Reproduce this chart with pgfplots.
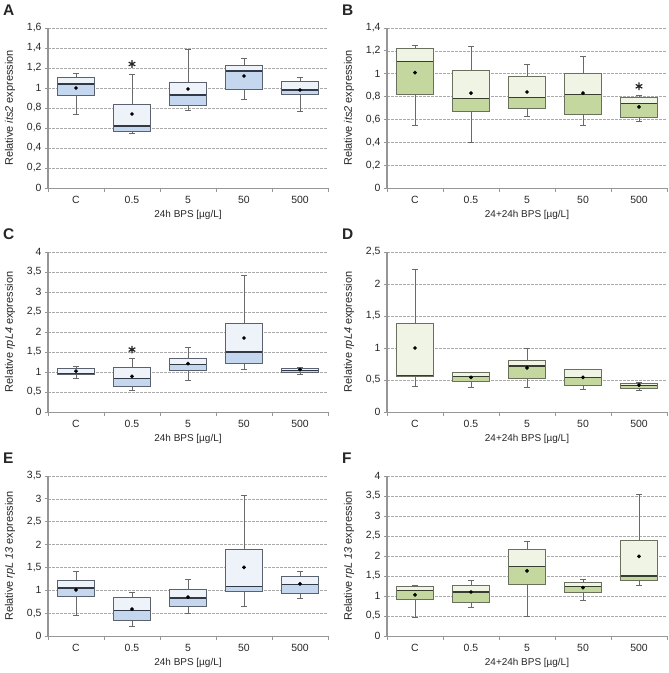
\documentclass[border=0pt]{standalone}
\usepackage{fontspec}
\setmainfont{Liberation Sans}
\usepackage{pgfplots}
\usepackage{pgfplotstable}
\pgfplotsset{compat=1.18}
\usepgfplotslibrary{statistics}

\definecolor{blueL}{RGB}{238,243,250}
\definecolor{blueD}{RGB}{197,215,238}
\definecolor{blueE}{RGB}{90,98,112}
\definecolor{blueM}{RGB}{50,57,70}
\definecolor{greenL}{RGB}{240,244,228}
\definecolor{greenD}{RGB}{196,215,158}
\definecolor{greenE}{RGB}{105,113,94}
\definecolor{greenM}{RGB}{55,62,48}
\definecolor{whisk}{RGB}{105,105,105}
\definecolor{axisgray}{RGB}{150,150,150}
\definecolor{gridgray}{RGB}{170,170,170}

% its2, 24h
\pgfplotstableread{
lw   q1   med  q3   uw   mean
0.74 0.93 1.04 1.11 1.15 1.00
0.55 0.57 0.62 0.84 1.14 0.74
0.78 0.83 0.93 1.06 1.39 0.99
0.89 0.99 1.17 1.23 1.30 1.12
0.77 0.94 0.98 1.07 1.11 0.98
}\dA
% its2, 24+24h
\pgfplotstableread{
lw   q1   med  q3   uw   mean
0.55 0.82 1.11 1.22 1.25 1.01
0.40 0.67 0.78 1.03 1.24 0.83
0.63 0.70 0.79 0.98 1.08 0.84
0.55 0.64 0.82 1.00 1.15 0.83
0.58 0.62 0.74 0.79 0.81 0.71
}\dB
% rpL4, 24h
\pgfplotstableread{
lw   q1   med  q3   uw   mean
0.84 0.93 0.97 1.08 1.14 1.02
0.55 0.65 0.83 1.12 1.33 0.89
0.78 1.05 1.18 1.35 1.62 1.21
1.06 1.22 1.50 2.21 3.41 1.85
0.93 0.98 1.03 1.08 1.12 1.06
}\dC
% rpL4, 24+24h
\pgfplotstableread{
lw   q1   med  q3   uw   mean
0.40 0.56 0.57 1.39 2.23 1.00
0.38 0.47 0.55 0.62 0.62 0.54
0.39 0.52 0.72 0.81 1.00 0.69
0.36 0.42 0.54 0.66 0.67 0.54
0.33 0.37 0.42 0.45 0.46 0.42
}\dD
% rpL13, 24h
\pgfplotstableread{
lw   q1   med  q3   uw   mean
0.44 0.86 1.05 1.22 1.41 1.01
0.20 0.33 0.55 0.84 0.95 0.59
0.49 0.65 0.83 1.01 1.23 0.85
0.64 0.97 1.08 1.90 3.07 1.50
0.82 0.92 1.12 1.30 1.42 1.14
}\dE
% rpL13, 24+24h
\pgfplotstableread{
lw   q1   med  q3   uw   mean
0.47 0.91 1.14 1.24 1.27 1.03
0.72 0.85 1.10 1.27 1.40 1.10
0.50 1.28 1.73 2.16 2.36 1.63
0.88 1.09 1.24 1.34 1.41 1.21
1.26 1.40 1.50 2.40 3.54 1.99
}\dF

\pgfplotsset{
  panel/.style={
    scale only axis, width=280bp, height=160bp,
    xmin=0.5, xmax=5.5, ymin=0,
    axis x line=bottom, axis y line=left,
    x axis line style={-, draw=axisgray, line width=1bp},
    y axis line style={-, draw=axisgray, line width=1.8bp},
    xtick={1,...,5}, xticklabels={C,0.5,5,50,500},
    minor xtick={0.5,1.5,...,5.5},
    major x tick style={draw=none},
    minor x tick style={draw=axisgray, line width=0.8bp},
    y tick style={draw=axisgray, line width=0.8bp},
    tick align=outside,
    major tick length=3bp, minor tick length=3.5bp,
    ymajorgrids,
    major grid style={draw=gridgray, dash pattern=on 2.5bp off 1.5bp, line width=0.6bp},
    tick label style={font=\fontsize{10.5}{12}\selectfont, text=black!85},
    xticklabel style={yshift=-1.5bp},
    /pgf/number format/assume math mode=true,
    /pgf/number format/use comma,
    every axis y label/.style={at={(axis description cs:-0.136,0.5)}, rotate=90,
      anchor=center, font=\fontsize{11}{13}\selectfont, text=black!85},
    every axis x label/.style={at={(axis description cs:0.5,0)},
      anchor=center, yshift=-27bp, font=\fontsize{10}{12}\selectfont, text=black!85},
  },
  fullbox/.style={boxplot/draw direction=y, boxplot/box extend=0.66,
    boxplot/whisker extend=0.1,
    boxplot/every whisker/.style={draw=whisk, line width=0.8bp},
    boxplot/every box/.style={draw=#1E, fill=#1L, line width=1bp},
    boxplot/every median/.style={draw=#1M, line width=1.2bp}},
  halfbox/.style={boxplot/draw direction=y, boxplot/box extend=0.66,
    boxplot/whisker extend=0.1,
    boxplot/every whisker/.style={draw=none},
    boxplot/every box/.style={draw=#1E, fill=#1D, line width=1bp},
    boxplot/every median/.style={draw=#1M, line width=1.2bp}},
  star/.style={only marks, mark=asterisk, mark size=3.8bp, line width=1.2bp, black!85},
}

% one box: table, row, colour scheme
\newcommand\onebox[3]{%
  \pgfplotstablegetelem{#2}{lw}\of#1\let\vlw\pgfplotsretval
  \pgfplotstablegetelem{#2}{q1}\of#1\let\vqa\pgfplotsretval
  \pgfplotstablegetelem{#2}{med}\of#1\let\vmed\pgfplotsretval
  \pgfplotstablegetelem{#2}{q3}\of#1\let\vqc\pgfplotsretval
  \pgfplotstablegetelem{#2}{uw}\of#1\let\vuw\pgfplotsretval
  \edef\tmp{%
    \noexpand\addplot[fullbox=#3, boxplot prepared={draw position=#2+1,
      lower whisker=\vlw, lower quartile=\vqa, median=\vmed,
      upper quartile=\vqc, upper whisker=\vuw}] coordinates {};
    \noexpand\addplot[halfbox=#3, boxplot prepared={draw position=#2+1,
      lower whisker=\vqa, lower quartile=\vqa, median=\vmed,
      upper quartile=\vmed, upper whisker=\vmed}] coordinates {};
  }\tmp
}
\newcommand\drawboxes[2]{%
  \pgfplotsinvokeforeach{0,...,4}{\onebox{#1}{##1}{#2}}%
  \addplot[only marks, mark=*, mark size=1.7bp, black] table[x expr=\coordindex+1, y=mean] {#1};
}

\begin{document}
\begin{tikzpicture}
\useasboundingbox (0,0) rectangle (669bp,-673bp);

\begin{axis}[panel, at={(48bp,-28bp)}, anchor=north west,
  ymax=1.6, ytick={0,0.2,...,1.6},
  ylabel={Relative \textit{its2} expression}, xlabel={24h BPS [µg/L]}]
\drawboxes{\dA}{blue}
\addplot[star] coordinates {(2,1.24)};
\end{axis}

\begin{axis}[panel, at={(387bp,-28bp)}, anchor=north west,
  ymax=1.4, ytick={0,0.2,...,1.4},
  ylabel={Relative \textit{its2} expression}, xlabel={24+24h BPS [µg/L]}]
\drawboxes{\dB}{green}
\addplot[star] coordinates {(5,0.89)};
\end{axis}

\begin{axis}[panel, at={(48bp,-252bp)}, anchor=north west,
  ymax=4, ytick={0,0.5,...,4},
  ylabel={Relative \textit{rpL4} expression}, xlabel={24h BPS [µg/L]}]
\drawboxes{\dC}{blue}
\addplot[star] coordinates {(2,1.56)};
\end{axis}

\begin{axis}[panel, at={(387bp,-252bp)}, anchor=north west,
  ymax=2.5, ytick={0,0.5,...,2.5},
  ylabel={Relative \textit{rpL4} expression}, xlabel={24+24h BPS [µg/L]}]
\drawboxes{\dD}{green}
\end{axis}

\begin{axis}[panel, at={(48bp,-476bp)}, anchor=north west,
  ymax=3.5, ytick={0,0.5,...,3.5},
  ylabel={Relative \textit{rpL 13} expression}, xlabel={24h BPS [µg/L]}]
\drawboxes{\dE}{blue}
\end{axis}

\begin{axis}[panel, at={(387bp,-476bp)}, anchor=north west,
  ymax=4, ytick={0,0.5,...,4},
  ylabel={Relative \textit{rpL 13} expression}, xlabel={24+24h BPS [µg/L]}]
\drawboxes{\dF}{green}
\end{axis}

\begin{scope}[every node/.style={anchor=north west, inner sep=0pt,
    font=\bfseries\fontsize{15.5}{16}\selectfont, text=black!85}]
\node at (3bp,-5bp) {A};
\node at (342bp,-5bp) {B};
\node at (3bp,-229bp) {C};
\node at (342bp,-229bp) {D};
\node at (3bp,-453bp) {E};
\node at (342bp,-453bp) {F};
\end{scope}
\end{tikzpicture}
\end{document}
